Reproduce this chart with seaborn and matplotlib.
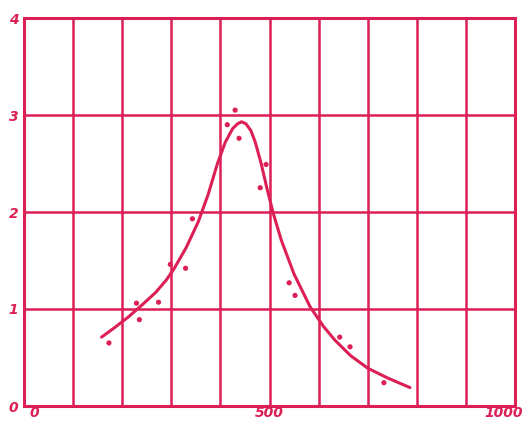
import matplotlib
matplotlib.use("Agg")
import matplotlib.pyplot as plt
import matplotlib.transforms as mtrans
import seaborn as sns
import pandas as pd

RED = "#dc1f55"

# measured points
pt_x = [173, 229, 235, 274, 298, 329, 343, 414, 430, 438, 481, 493, 540, 552, 643, 664, 733]
pt_y = [0.65, 1.06, 0.89, 1.07, 1.46, 1.42, 1.93, 2.90, 3.05, 2.76, 2.25, 2.49, 1.27, 1.14, 0.71, 0.61, 0.24]

# fitted curve
curve_x = [158, 185, 213, 240, 268, 290, 305, 330, 355, 375, 394, 410, 425,
           435, 443, 452, 462, 471, 483, 495, 508, 524, 550, 583, 610, 633,
           665, 700, 740, 786]
curve_y = [0.71, 0.81, 0.92, 1.04, 1.17, 1.30, 1.41, 1.63, 1.90, 2.18, 2.50, 2.72, 2.86,
           2.91, 2.93, 2.91, 2.84, 2.72, 2.50, 2.24, 1.98, 1.71, 1.36, 1.02, 0.82, 0.68,
           0.52, 0.39, 0.29, 0.19]

x_ticks = list(range(0, 1001, 100))
x_labels = ["0", "", "", "", "", "500", "", "", "", "", "1000"]
y_ticks = [0, 1, 2, 3, 4]

pts = pd.DataFrame({"x": pt_x, "y": pt_y})
fit = pd.DataFrame({"x": curve_x, "y": curve_y})

sns.set_style("white")
fig = plt.figure(figsize=(5.29, 4.22), dpi=100)
ax = fig.add_axes([24 / 529, 16 / 422, 491 / 529, 388 / 422])

sns.lineplot(data=fit, x="x", y="y", ax=ax, color=RED, linewidth=2.2, sort=False)
sns.scatterplot(data=pts, x="x", y="y", ax=ax, color=RED, s=14, edgecolor="none")

ax.set_xlim(0, 1000)
ax.set_ylim(0, 4)
ax.set_xticks(x_ticks)
ax.set_xticklabels(x_labels)
ax.set_yticks(y_ticks)
ax.set_yticklabels([str(v) for v in y_ticks])
ax.grid(True, color=RED, linewidth=1.8)
ax.set_axisbelow(True)
for s in ax.spines.values():
    s.set_color(RED)
    s.set_linewidth(2.2)
ax.tick_params(axis="x", length=0, colors=RED, pad=0)
ax.tick_params(axis="y", length=0, colors=RED, pad=4)
for lab in ax.get_xticklabels() + ax.get_yticklabels():
    lab.set_fontstyle("italic")
    lab.set_fontweight("bold")
    lab.set_fontsize(10)

# nudge the x labels like the hand-lettered original
xl = ax.get_xticklabels()
xl[0].set_transform(xl[0].get_transform() + mtrans.ScaledTranslation(10 / 100, 0, fig.dpi_scale_trans))
xl[-1].set_transform(xl[-1].get_transform() + mtrans.ScaledTranslation(-11 / 100, 0, fig.dpi_scale_trans))
ax.set_xlabel("")
ax.set_ylabel("")

fig.savefig("out.png", dpi=100)
